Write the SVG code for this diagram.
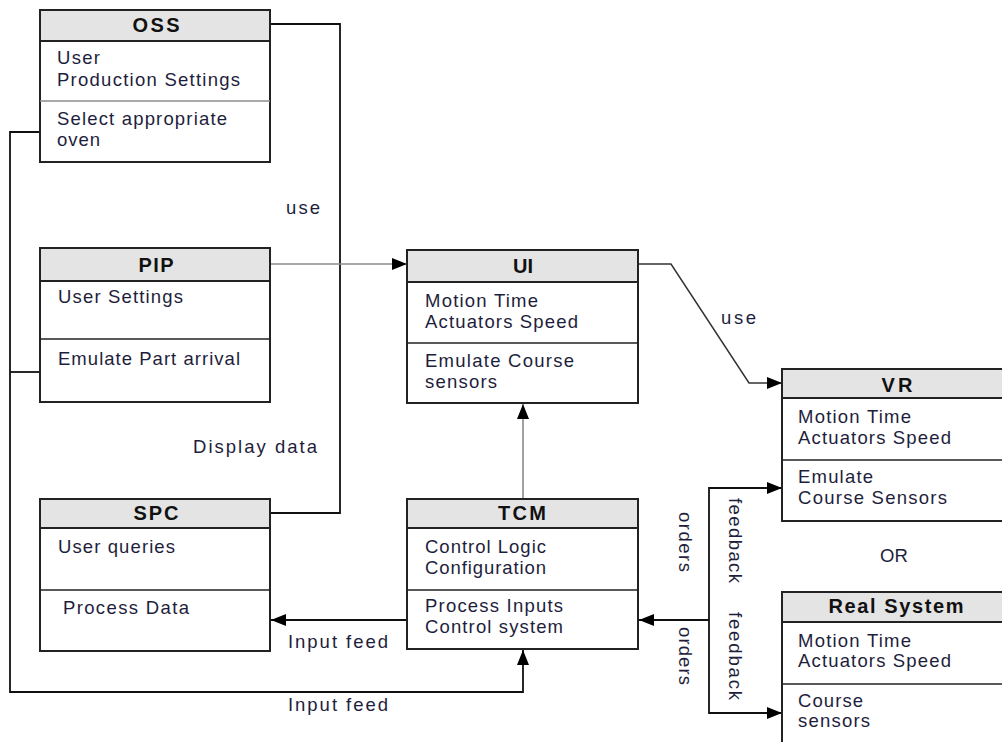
<svg xmlns="http://www.w3.org/2000/svg" width="1002" height="742" viewBox="0 0 1002 742">
  <defs>
    <marker id="arr" markerWidth="15" markerHeight="12" refX="15" refY="6" orient="auto" markerUnits="userSpaceOnUse">
      <path d="M0,0 L15,6 L0,12 z" fill="#000"/>
    </marker>
  </defs>
  <style>
    .box{fill:#fff;stroke:#222;stroke-width:2}
    .hd{fill:#e4e4e4;stroke:#222;stroke-width:2}
    .dv{stroke:#222;stroke-width:1.6}
    .dg{stroke:#8c8c8c;stroke-width:1.6}
    .t{font-family:"Liberation Sans",Arial,sans-serif;font-size:18.5px;fill:#1e1e3c}
    .h{font-family:"Liberation Sans",Arial,sans-serif;font-size:20px;font-weight:bold;fill:#111;text-anchor:middle}
    .c{fill:none;stroke:#111;stroke-width:1.8}
    .g{fill:none;stroke:#8a8a8a;stroke-width:1.6}
  </style>
  <rect width="1002" height="742" fill="#fff"/>

  <!-- connectors -->
  <g id="connectors">
    <path class="c" d="M270,24 H340 V513 H270"/>
    <path class="c" d="M40,132 H10 V692 H523 V650" marker-end="url(#arr)"/>
    <path class="c" d="M40,372 H10"/>
    <path class="g" d="M270,264 H407" marker-end="url(#arr)"/>
    <path class="c" d="M638,264 H671 L749,383 H782" marker-end="url(#arr)" style="stroke:#333;stroke-width:1.5"/>
    <path class="g" d="M523,499 V404" marker-end="url(#arr)"/>
    <path class="c" d="M407,620 H271" marker-end="url(#arr)"/>
    <path class="c" d="M709,620 H639" marker-end="url(#arr)"/>
    <path class="c" d="M709,620 V488 H782" marker-end="url(#arr)"/>
    <path class="c" d="M709,620 V713 H782" marker-end="url(#arr)"/>

    <text class="t" x="286" y="214" textLength="34">use</text>
    <text class="t" x="721" y="324" textLength="35">use</text>
    <text class="t" x="193" y="453" textLength="124">Display data</text>
    <text class="t" x="288" y="648" textLength="100">Input feed</text>
    <text class="t" x="288" y="711" textLength="100">Input feed</text>
    <text class="t" x="880" y="562">OR</text>
    <text class="t" transform="translate(679,512) rotate(90)" textLength="60">orders</text>
    <text class="t" transform="translate(679,627) rotate(90)" textLength="58">orders</text>
    <text class="t" transform="translate(729,498) rotate(90)" textLength="85">feedback</text>
    <text class="t" transform="translate(729,612) rotate(90)" textLength="88">feedback</text>
  </g>

  <!-- OSS -->
  <g id="oss">
    <rect class="box" x="40" y="10" width="230" height="152"/>
    <rect class="hd" x="40" y="10" width="230" height="31"/>
    <line class="dg" x1="40" y1="101" x2="270" y2="101"/>
    <text class="h" x="156" y="32" textLength="47">OSS</text>
    <text class="t" x="57" y="64" textLength="43">User</text>
    <text class="t" x="57" y="86" textLength="183">Production Settings</text>
    <text class="t" x="57" y="125" textLength="170">Select appropriate</text>
    <text class="t" x="57" y="146" textLength="43">oven</text>
  </g>

  <!-- PIP -->
  <g id="pip">
    <rect class="box" x="40" y="248" width="230" height="154"/>
    <rect class="hd" x="40" y="248" width="230" height="33"/>
    <line class="dv" x1="40" y1="339" x2="270" y2="339"/>
    <text class="h" x="156" y="272" textLength="35">PIP</text>
    <text class="t" x="58" y="303" textLength="125">User Settings</text>
    <text class="t" x="58" y="365" textLength="182">Emulate Part arrival</text>
  </g>

  <!-- SPC -->
  <g id="spc">
    <rect class="box" x="40" y="499" width="230" height="152"/>
    <rect class="hd" x="40" y="499" width="230" height="29"/>
    <line class="dv" x1="40" y1="590" x2="270" y2="590"/>
    <text class="h" x="156" y="520" textLength="45">SPC</text>
    <text class="t" x="58" y="553" textLength="117">User queries</text>
    <text class="t" x="63" y="614" textLength="126">Process Data</text>
  </g>

  <!-- UI -->
  <g id="ui">
    <rect class="box" x="407" y="250" width="231" height="153"/>
    <rect class="hd" x="407" y="250" width="231" height="32"/>
    <line class="dv" x1="407" y1="343" x2="638" y2="343"/>
    <text class="h" x="523" y="273" textLength="20">UI</text>
    <text class="t" x="425" y="307" textLength="113">Motion Time</text>
    <text class="t" x="425" y="328" textLength="153">Actuators Speed</text>
    <text class="t" x="425" y="367" textLength="149">Emulate Course</text>
    <text class="t" x="425" y="388" textLength="72">sensors</text>
  </g>

  <!-- TCM -->
  <g id="tcm">
    <rect class="box" x="407" y="499" width="231" height="150"/>
    <rect class="hd" x="407" y="499" width="231" height="29"/>
    <line class="dv" x1="407" y1="590" x2="638" y2="590"/>
    <text class="h" x="522" y="520" textLength="48">TCM</text>
    <text class="t" x="425" y="553" textLength="121">Control Logic</text>
    <text class="t" x="425" y="574" textLength="121">Configuration</text>
    <text class="t" x="425" y="612" textLength="138">Process Inputs</text>
    <text class="t" x="425" y="633" textLength="138">Control system</text>
  </g>

  <!-- VR -->
  <g id="vr">
    <rect class="box" x="782" y="369" width="231" height="152"/>
    <rect class="hd" x="782" y="369" width="231" height="29"/>
    <line class="dv" x1="782" y1="460" x2="1013" y2="460"/>
    <text class="h" x="897" y="392" textLength="31">VR</text>
    <text class="t" x="798" y="423" textLength="113">Motion Time</text>
    <text class="t" x="798" y="444" textLength="153">Actuators Speed</text>
    <text class="t" x="798" y="483" textLength="75">Emulate</text>
    <text class="t" x="798" y="504" textLength="149">Course Sensors</text>
  </g>

  <!-- Real System -->
  <g id="real-system">
    <rect class="box" x="782" y="592" width="231" height="160"/>
    <rect class="hd" x="782" y="592" width="231" height="30"/>
    <line class="dv" x1="782" y1="684" x2="1013" y2="684"/>
    <text class="h" x="896" y="613" textLength="135">Real System</text>
    <text class="t" x="798" y="647" textLength="113">Motion Time</text>
    <text class="t" x="798" y="667" textLength="153">Actuators Speed</text>
    <text class="t" x="798" y="707" textLength="65">Course</text>
    <text class="t" x="798" y="727" textLength="72">sensors</text>
  </g>
</svg>
